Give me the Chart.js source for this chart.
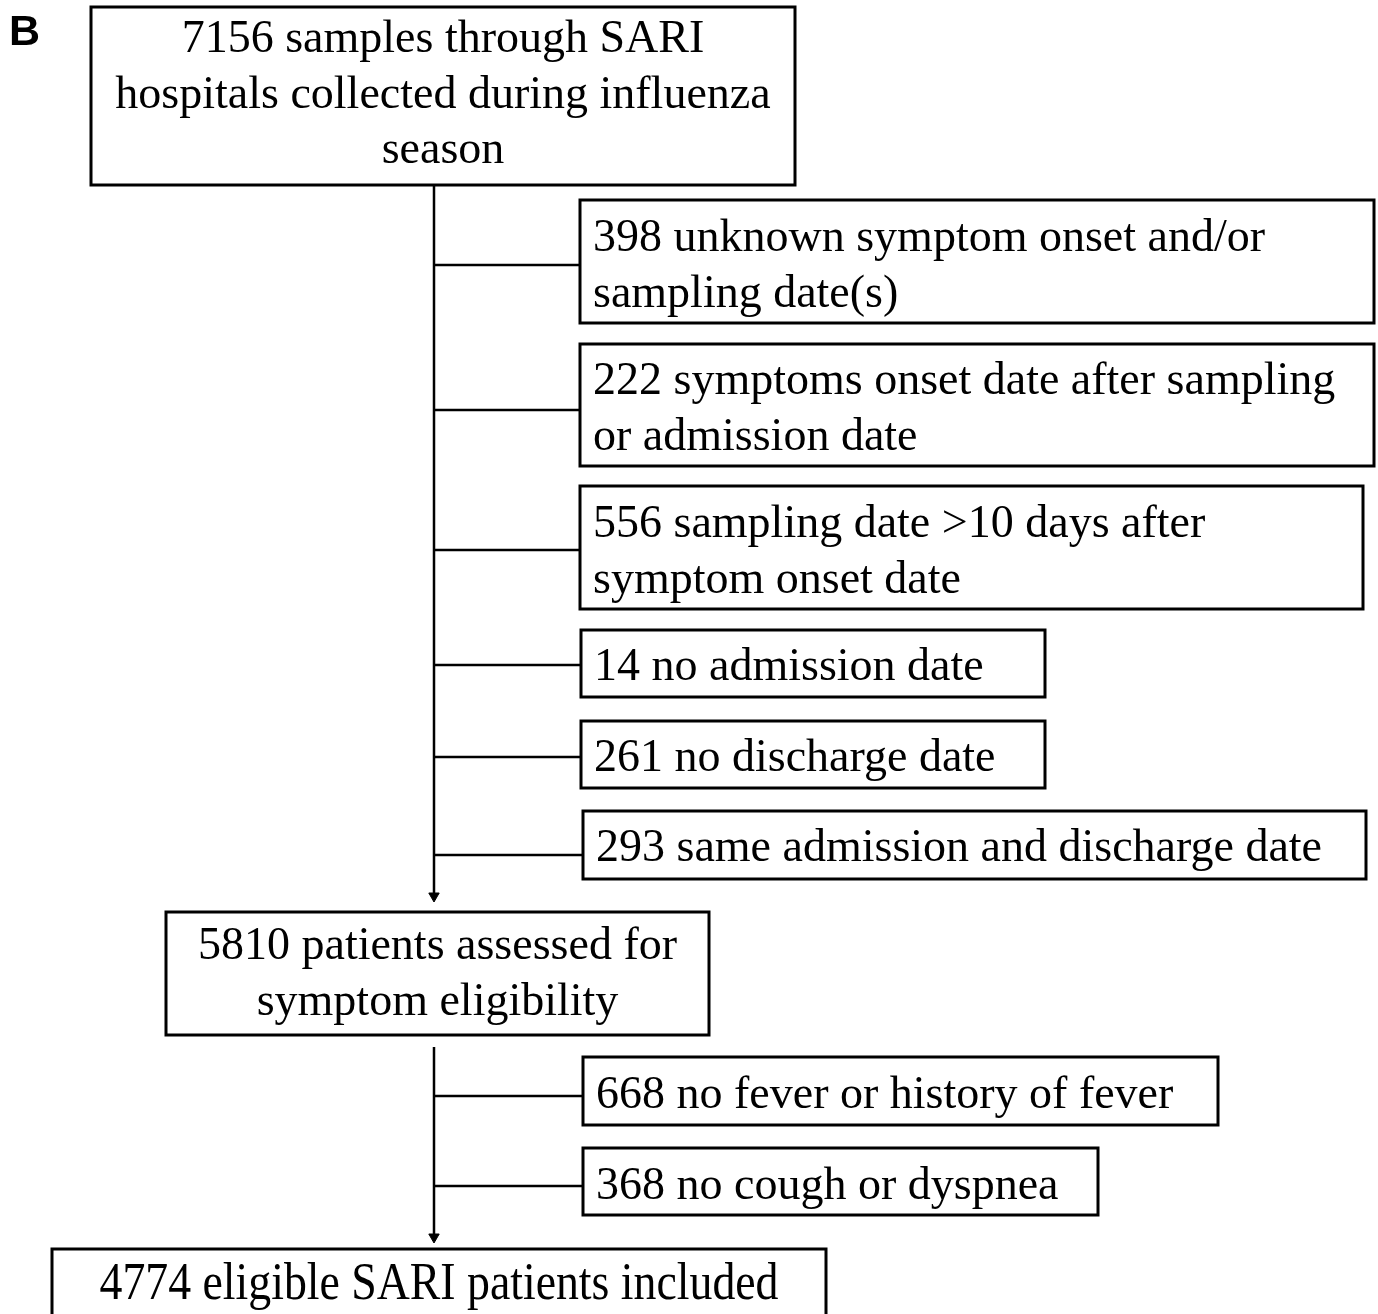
<!DOCTYPE html>
<html>
<head>
<meta charset="utf-8">
<script src="https://cdn.jsdelivr.net/npm/chart.js@4.4.1/dist/chart.umd.min.js"></script>
<style>
html, body { margin: 0; padding: 0; background: #fff; }
#wrap { width: 1378px; height: 1314px; }
</style>
</head>
<body>
<div id="wrap"><canvas id="flow"></canvas></div>
<script>
// counts and wording of the flow diagram
const mainCounts = [7156, 5810, 4774];
const mainLabels = [
  'samples through SARI\nhospitals collected during influenza\nseason',
  'patients assessed for\nsymptom eligibility',
  'eligible SARI patients included'
];
const exclCounts = [398, 222, 556, 14, 261, 293, 668, 368];
const exclLabels = [
  'unknown symptom onset and/or\nsampling date(s)',
  'symptoms onset date after sampling\nor admission date',
  'sampling date >10 days after\nsymptom onset date',
  'no admission date',
  'no discharge date',
  'same admission and discharge date',
  'no fever or history of fever',
  'no cough or dyspnea'
];
const panelLabel = 'B';

// layout (canvas units, y grows downward)
const mainBoxes = [[91, 7, 795, 185], [166, 912, 709, 1035], [52, 1249, 826, 1340]];
const mainFirstBaseline = [52, 959, 1299];
// the last box's text is set taller and condensed in the original
const mainFontSize = [46, 46, 52];
const mainTextWidth = [null, null, 679];
const exclBoxes = [
  [580, 200, 1374, 323], [580, 344, 1374, 466], [580, 486, 1363, 609],
  [581, 630, 1045, 697], [581, 721, 1045, 788], [583, 811, 1366, 879],
  [583, 1057, 1218, 1125], [583, 1148, 1098, 1215]
];
const exclFirstBaseline = [251, 394, 537, 680, 771, 861, 1108, 1199];
const connectorY = [265, 410, 550, 665, 757, 855, 1096, 1186];
const trunkX = 434;
const trunks = [[185, 902], [1047, 1243]];
const lineGap = 55.5;
const arrowR = 6;

const datasets = [];
trunks.forEach(t => {
  datasets.push({
    data: [{x: trunkX, y: t[0]}, {x: trunkX, y: t[1] - arrowR}],
    showLine: true, borderColor: '#000', borderWidth: 2.5,
    pointRadius: [0, arrowR], pointStyle: 'triangle', pointRotation: 180,
    pointBackgroundColor: '#000', pointBorderColor: '#000', pointBorderWidth: 1
  });
});
connectorY.forEach((y, i) => {
  datasets.push({
    data: [{x: trunkX, y: y}, {x: exclBoxes[i][0], y: y}],
    showLine: true, borderColor: '#000', borderWidth: 2.4, pointRadius: 0
  });
});

const boxPlugin = {
  id: 'boxes',
  afterDatasetsDraw(chart) {
    const ctx = chart.ctx;
    const sx = chart.scales.x, sy = chart.scales.y;
    const px = v => sx.getPixelForValue(v), py = v => sy.getPixelForValue(v);
    ctx.save();
    ctx.strokeStyle = '#000';
    ctx.lineWidth = 3;

    const drawBox = b => {
      const x = px(b[0]), y = py(b[1]), w = px(b[2]) - x, h = py(b[3]) - y;
      ctx.fillStyle = '#fff';
      ctx.fillRect(x, y, w, h);
      ctx.strokeRect(x, y, w, h);
      ctx.fillStyle = '#000';
    };

    ctx.textBaseline = 'alphabetic';

    mainBoxes.forEach((b, i) => {
      drawBox(b);
      ctx.font = mainFontSize[i] + 'px "Liberation Serif", "Times New Roman", serif';
      const lines = (mainCounts[i] + ' ' + mainLabels[i]).split('\n');
      ctx.textAlign = 'center';
      const cx = px((b[0] + b[2]) / 2);
      lines.forEach((ln, k) => {
        const y = py(mainFirstBaseline[i] + k * lineGap);
        if (mainTextWidth[i]) {
          const k2 = mainTextWidth[i] / ctx.measureText(ln).width;
          ctx.save();
          ctx.translate(cx, y);
          ctx.scale(k2, 1);
          ctx.fillText(ln, 0, 0);
          ctx.restore();
        } else {
          ctx.fillText(ln, cx, y);
        }
      });
    });

    ctx.font = '46px "Liberation Serif", "Times New Roman", serif';
    exclBoxes.forEach((b, i) => {
      drawBox(b);
      const lines = (exclCounts[i] + ' ' + exclLabels[i]).split('\n');
      ctx.textAlign = 'left';
      lines.forEach((ln, k) => ctx.fillText(ln, px(b[0] + 13), py(exclFirstBaseline[i] + k * lineGap)));
    });

    ctx.font = 'bold 43px "Liberation Sans", Arial, sans-serif';
    ctx.textAlign = 'left';
    ctx.fillText(panelLabel, px(9), py(45));
    ctx.restore();
  }
};

new Chart(document.getElementById('flow'), {
  type: 'scatter',
  data: { datasets: datasets },
  options: {
    responsive: true,
    maintainAspectRatio: false,
    animation: false,
    events: [],
    layout: { padding: 0, autoPadding: false },
    plugins: { legend: { display: false }, tooltip: { enabled: false } },
    scales: {
      x: { type: 'linear', min: 0, max: 1378, display: false },
      y: { type: 'linear', min: 0, max: 1314, reverse: true, display: false }
    }
  },
  plugins: [boxPlugin]
});
</script>
</body>
</html>
